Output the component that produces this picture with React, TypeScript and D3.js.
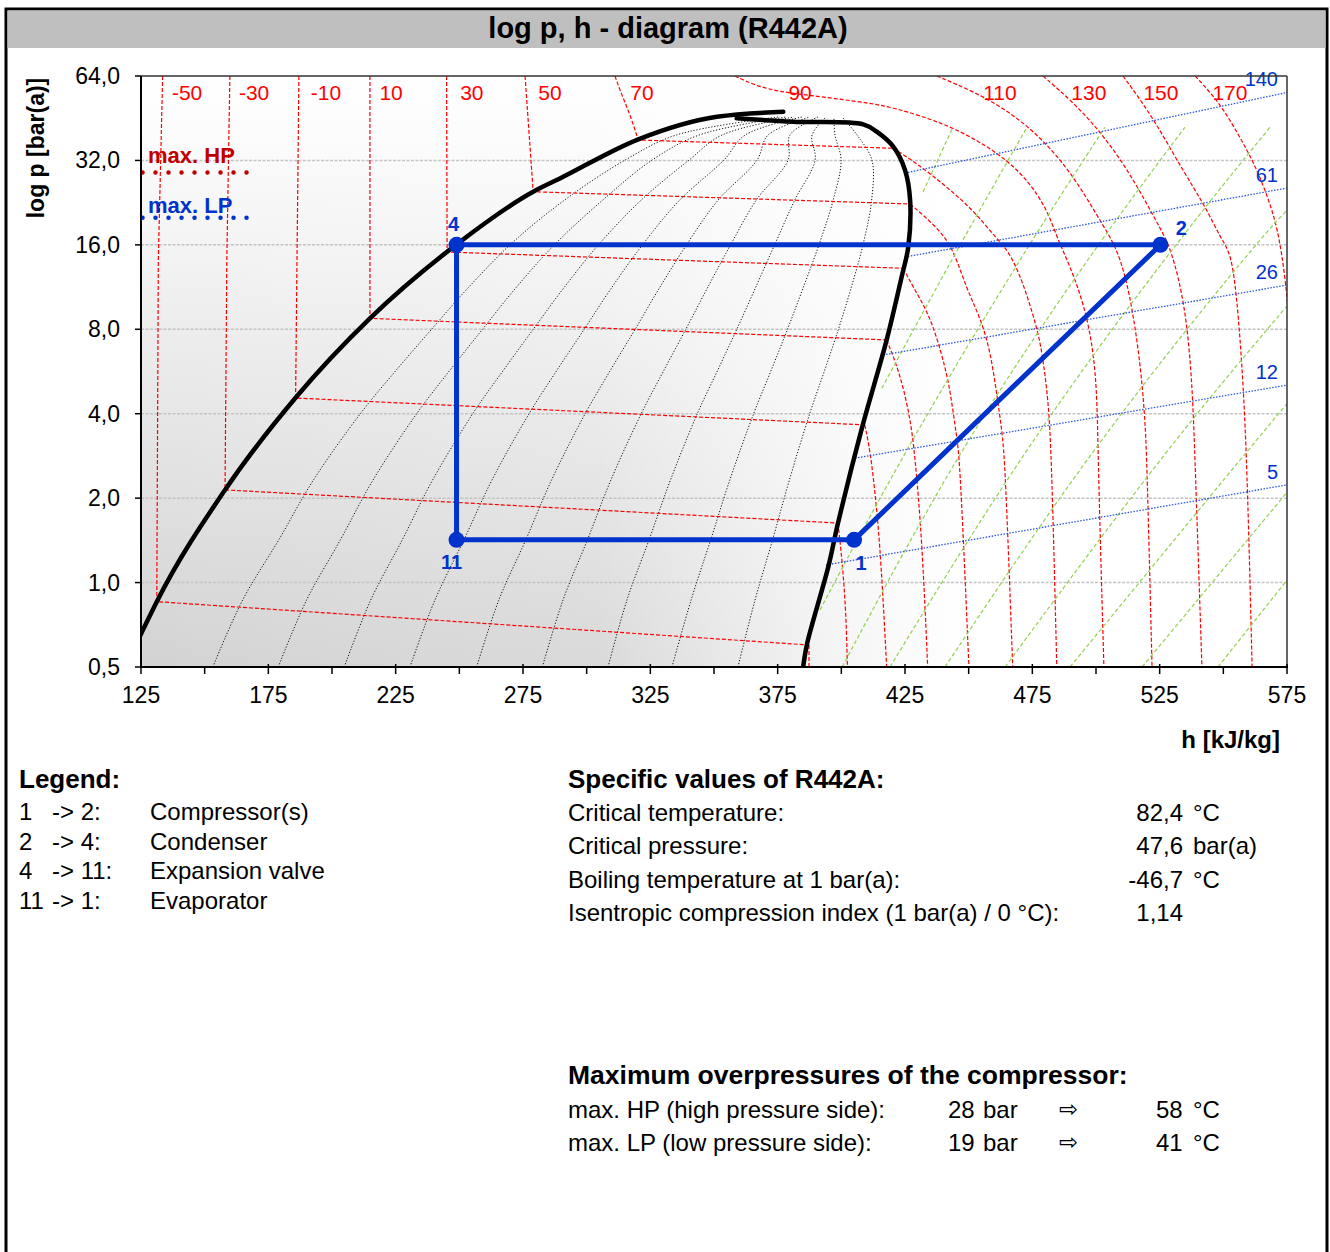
import * as d3 from "d3";

// axes
const hTicks = [125, 175, 225, 275, 325, 375, 425, 475, 525, 575];
const hMinor = [150, 200, 250, 300, 350, 400, 450, 500, 550];
const pTicks = [0.5, 1, 2, 4, 8, 16, 32, 64];
const pGrid = [1, 2, 4, 8, 16, 32];

// saturation lines [h kJ/kg, p bar(a)]
const satLiquid = [
  [118.7, 0.5], [125.0, 0.656], [131.2, 0.855], [158.0, 2.14], [185.7, 4.56],
  [214.9, 8.75], [248.7, 16.0], [279.0, 24.75], [289.5, 27.6],
  [320.3, 38.06], [351.1, 45.82], [377.2, 47.7],
];
const satVapor = [
  [358.9, 45.22], [381.1, 43.98], [408.6, 43.05], [413.9, 40.51], [420.4, 35.82],
  [425.0, 29.58], [427.0, 23.12], [426.3, 15.77], [423.7, 12.32], [417.8, 7.33],
  [408.1, 3.56], [398.7, 1.63], [394.9, 1.14], [386.6, 0.608], [385.0, 0.5],
];

// refrigeration cycle
const cycleIds = ["1", "2", "4", "11"];
const cycleH = [405.0, 525.3, 248.9, 248.9];
const cycleP = [1.42, 16, 16, 1.42];

// isotherms: "dome" = liquid + two-phase part (straight), "gas" = superheated part
const isoTemps = [-50, -30, -10, 10, 30, 50, 70, 90, 110, 130, 150, 170];
const isoLabelH = [143.1, 169.4, 197.6, 223.2, 254.9, 285.6, 321.7, 383.8, 462.3, 497.2, 525.5, 552.6];
const tm50dome = [[133.5, 64], [131.8, 14.1], [131.2, 0.855], [387.3, 0.599]];
const tm50gas = [[387.3, 0.599], [387.3, 0.5]];
const tm30dome = [[159.9, 64], [158.7, 14.1], [158.0, 2.14], [398.7, 1.63]];
const tm30gas = [[398.7, 1.63], [400.3, 1.2], [401.8, 0.799], [402.4, 0.5]];
const tm10dome = [[187.0, 64], [185.7, 4.55], [409.2, 3.65]];
const tm10gas = [[409.2, 3.65], [411.3, 2.97], [413.6, 1.97], [415.6, 1.2], [417.8, 0.5]];
const t10dome = [[214.9, 64], [214.9, 8.75], [417.8, 7.33]];
const t10gas = [[417.8, 7.33], [423.0, 5.59], [427.0, 3.89], [428.9, 2.85], [431.7, 1.42], [433.9, 0.5]];
const t30dome = [[245.0, 64], [245.2, 15.09], [424.3, 13.2]];
const t30gas = [[424.3, 13.2], [428.2, 11.32], [433.5, 9.37], [437.5, 7.51], [440.7, 5.87], [442.7, 4.86], [445.3, 3.3], [446.6, 2.73], [450.1, 0.5]];
const t50dome = [[275.8, 64], [279.0, 24.75], [427.0, 22.38]];
const t50gas = [[427.0, 22.38], [437.5, 18.53], [443.9, 15.59], [449.3, 11.05], [454.5, 8.85], [458.4, 6.75], [461.0, 4.74], [463.0, 3.5], [464.3, 2.73], [467.3, 0.5]];
const t70dome = [[311.1, 64], [313.1, 57.06], [317.0, 46.47], [320.3, 37.84], [420.4, 35.36]];
const t70gas = [[420.4, 35.36], [429.6, 31.26], [441.4, 25.79], [452.5, 20.96], [460.3, 17.07], [465.6, 15.34], [471.5, 11.7], [476.7, 8.15], [478.7, 6.75], [481.3, 4.48], [482.6, 2.73], [484.6, 0.5]];
const t90gas = [[358.2, 64], [366.6, 58.96], [375.9, 56.26], [386.4, 54.76], [407.3, 51.83], [420.3, 49.62], [439.9, 43.51], [453.3, 37.84], [465.1, 32.11], [474.1, 26.58], [480.8, 21.31], [484.7, 17.07], [486.6, 15.59], [492.5, 11.7], [497.6, 8.15], [500.4, 5.15], [500.8, 2.73], [503.1, 0.5]];
const t110gas = [[437.5, 64], [452.5, 56.1], [466.2, 47.63], [478.0, 38.79], [487.8, 30.82], [495.7, 24.1], [502.7, 18.8], [508.6, 15.34], [513.3, 10.78], [517.3, 6.22], [519.2, 3.89], [520.0, 2.73], [522.0, 0.5]];
const t130gas = [[479.2, 64], [491.8, 50.86], [502.4, 39.76], [511.4, 30.57], [519.2, 23.12], [525.1, 18.38], [529.4, 15.59], [534.9, 9.93], [537.7, 5.41], [538.9, 2.73], [541.6, 0.5]];
const t150gas = [[510.6, 64], [521.2, 47.23], [530.2, 34.02], [538.1, 25.73], [543.6, 21.31], [548.7, 17.07], [552.2, 15.34], [554.6, 12.29], [557.3, 6.22], [559.3, 2.73], [561.3, 0.5]];
const t170gas = [[538.9, 64], [548.7, 51.27], [556.5, 38.79], [562.4, 30.82], [567.5, 23.7], [571.5, 18.08], [574.3, 12.29], [576.2, 7.96]];

// isentropes (green)
const isentropes = [
  [[432.1, 24.7], [443.8, 42]],
  [[415.9, 4.93], [445.3, 15.34], [472.9, 42]],
  [[391.6, 0.799], [425.0, 2.97], [472.1, 15.34], [503.5, 42]],
  [[400.3, 0.5], [445.8, 2.97], [498.8, 15.34], [534.9, 42]],
  [[419.1, 0.5], [471.3, 2.97], [529.1, 15.34], [568.3, 42]],
  [[440.7, 0.5], [497.6, 2.97], [560.5, 15.34], [575, 21.3]],
  [[464.3, 0.5], [527.1, 2.97], [575, 9.68]],
  [[489.8, 0.5], [559.7, 2.97], [575, 4.34]],
  [[518.1, 0.5], [575, 2.1]],
  [[547.9, 0.5], [575, 1.02]],
];

// isochores (blue) with their labels
const isochoreLabels = ["140", "61", "26", "12", "5"];
const isochores = [
  [[425.0, 28.86], [575, 55.9]],
  [[425.0, 14.48], [575, 25.5]],
  [[416.4, 6.48], [575, 11.5]],
  [[405.4, 2.78], [575, 5.06]],
  [[394.0, 1.155], [575, 2.23]],
];

// vapour quality lines x = 0.1 ... 0.9: h at these pressures
const qualityP = [0.5, 0.866, 1.42, 2.32, 4.03, 5.73, 8.02, 11.05, 16, 23.1, 32.1, 39.4, 45.7];
const q01 = [153.2, 164.9, 179.1, 192.7, 211.4, 225.3, 239.2, 252.7, 269.9, 291.3, 315.1, 335.1, 375.1];
const q02 = [178.9, 190.0, 203.3, 216.1, 233.5, 246.4, 259.2, 271.5, 287.3, 306.3, 325.7, 344.1, 378.3];
const q03 = [204.8, 215.2, 227.6, 239.5, 255.5, 267.4, 279.1, 290.4, 304.6, 321.4, 340.2, 353.1, 381.4];
const q04 = [230.6, 240.4, 251.8, 262.8, 277.6, 288.4, 299.1, 309.2, 321.9, 336.5, 353.9, 362.2, 384.6];
const q05 = [256.8, 265.5, 276.1, 286.2, 299.6, 309.4, 319.1, 328.1, 339.2, 351.6, 366.9, 371.2, 387.7];
const q06 = [282.6, 290.7, 300.3, 309.5, 321.6, 330.4, 339.0, 347.0, 356.5, 366.6, 379.1, 379.8, 390.8];
const q07 = [308.4, 315.8, 324.5, 332.9, 343.6, 351.5, 359.0, 365.9, 373.8, 381.7, 389.7, 388.5, 394.0];
const q08 = [333.5, 341.0, 348.7, 356.2, 365.7, 372.5, 378.9, 384.7, 391.2, 396.8, 399.9, 397.5, 397.1];
const q09 = [359.4, 366.1, 373.0, 379.6, 387.7, 393.5, 398.9, 403.6, 408.5, 411.9, 412.0, 406.2, 400.3];

// max. overpressure markers (absolute bar)
const maxHP = 29;
const maxLP = 20;
const markerH = [125.6, 168];

// texts
const legendRows = [
  ["1", "-> 2:", "Compressor(s)"],
  ["2", "-> 4:", "Condenser"],
  ["4", "-> 11:", "Expansion valve"],
  ["11", "-> 1:", "Evaporator"],
];
const specRows = [
  ["Critical temperature:", "82,4", "°C"],
  ["Critical pressure:", "47,6", "bar(a)"],
  ["Boiling temperature at 1 bar(a):", "-46,7", "°C"],
  ["Isentropic compression index (1 bar(a) / 0 °C):", "1,14", ""],
];
const overRows = [
  ["max. HP (high pressure side):", "28", "bar", "58", "°C"],
  ["max. LP (low pressure side):", "19", "bar", "41", "°C"],
];

const FONT = "'Liberation Sans', Arial, Helvetica, sans-serif";
const RED = "#ff0000";
const BLUE = "#0033cc";
const GREEN = "#92d050";

export default function App() {
  const plot = { left: 141, right: 1287, top: 76, bottom: 667 };
  const x = d3.scaleLinear().domain([125, 575]).range([plot.left, plot.right]);
  const y = d3.scaleLog().base(2).domain([0.5, 64]).range([plot.bottom, plot.top]);

  const lin = d3.line<number[]>().x((d) => x(d[0])).y((d) => y(d[1]));
  const smooth = d3
    .line<number[]>()
    .x((d) => x(d[0]))
    .y((d) => y(d[1]))
    .curve(d3.curveCatmullRom.alpha(0.5));
  const soft = d3
    .line<number[]>()
    .x((d) => x(d[0]))
    .y((d) => y(d[1]))
    .curve(d3.curveBasis);
  const liquidLine = d3
    .line<number[]>()
    .x((d) => x(d[0]))
    .y((d) => y(d[1]))
    .curve(d3.curveMonotoneX);

  const isotherms = [
    { dome: tm50dome, gas: tm50gas },
    { dome: tm30dome, gas: tm30gas },
    { dome: tm10dome, gas: tm10gas },
    { dome: t10dome, gas: t10gas },
    { dome: t30dome, gas: t30gas },
    { dome: t50dome, gas: t50gas },
    { dome: t70dome, gas: t70gas },
    { dome: null, gas: t90gas },
    { dome: null, gas: t110gas },
    { dome: null, gas: t130gas },
    { dome: null, gas: t150gas },
    { dome: null, gas: t170gas },
  ];
  const qualityLines = [q01, q02, q03, q04, q05, q06, q07, q08, q09].map((hs) =>
    hs.map((h, i) => [h, qualityP[i]])
  );
  const cycle = cycleH.map((h, i) => [h, cycleP[i]]);
  const labelOffsets: Record<string, [number, number]> = {
    "1": [7, 30],
    "2": [21, -10],
    "4": [-3, -14],
    "11": [-5, 29],
  };

  return (
    <svg
      width={1330}
      height={1252}
      style={{ position: "absolute", left: 0, top: 0, fontFamily: FONT }}
    >
      <defs>
        <linearGradient id="bgV" x1="0" y1="0" x2="0" y2="1">
          <stop offset="0" stopColor="#ffffff" />
          <stop offset="0.12" stopColor="#fbfbfb" />
          <stop offset="1" stopColor="#d3d3d3" />
        </linearGradient>
        <linearGradient id="bgH" x1="0" y1="0" x2="1" y2="0">
          <stop offset="0" stopColor="#ffffff" stopOpacity="0" />
          <stop offset="0.4" stopColor="#ffffff" stopOpacity="0.15" />
          <stop offset="0.62" stopColor="#ffffff" stopOpacity="0.8" />
          <stop offset="0.72" stopColor="#ffffff" stopOpacity="1" />
          <stop offset="1" stopColor="#ffffff" stopOpacity="1" />
        </linearGradient>
        <clipPath id="plotClip">
          <rect x={plot.left} y={plot.top} width={plot.right - plot.left} height={plot.bottom - plot.top} />
        </clipPath>
      </defs>

      {/* frame and title */}
      <rect x={6} y={9} width={1321} height={1300} fill="none" stroke="#000" strokeWidth={3} />
      <rect x={7.5} y={10.5} width={1318} height={37.5} fill="#bfbfbf" />
      <text x={668} y={38} textAnchor="middle" fontSize={29} fontWeight="bold">
        log p, h - diagram (R442A)
      </text>

      {/* plot background */}
      <rect x={plot.left} y={plot.top} width={plot.right - plot.left} height={plot.bottom - plot.top} fill="url(#bgV)" />
      <rect x={plot.left} y={plot.top} width={plot.right - plot.left} height={plot.bottom - plot.top} fill="url(#bgH)" />

      {/* grid */}
      {pGrid.map((p) => (
        <line key={p} x1={plot.left} x2={plot.right} y1={y(p)} y2={y(p)} stroke="#c4c4c4" strokeWidth={1.5} strokeDasharray="3 1.5" />
      ))}

      <g clipPath="url(#plotClip)" fill="none">
        {qualityLines.map((d, i) => (
          <path key={"q" + i} d={smooth(d) || ""} stroke="#111" strokeWidth={1} strokeDasharray="1.2 1.8" />
        ))}
        {isotherms.map((t, i) => (
          <g key={"t" + i} stroke={RED} strokeWidth={1.2} strokeDasharray="4 2">
            {t.dome && <path d={lin(t.dome) || ""} />}
            <path d={soft(t.gas) || ""} />
          </g>
        ))}
        {isentropes.map((d, i) => (
          <path key={"s" + i} d={soft(d) || ""} stroke={GREEN} strokeWidth={1.2} strokeDasharray="4 2.5" />
        ))}
        {isochores.map((d, i) => (
          <path key={"v" + i} d={lin(d) || ""} stroke="#2a55dd" strokeWidth={1.3} strokeDasharray="1.5 1.5" />
        ))}
        <path d={liquidLine(satLiquid) || ""} stroke="#000" strokeWidth={4.5} strokeLinecap="round" />
        <path d={smooth(satVapor) || ""} stroke="#000" strokeWidth={4.5} strokeLinecap="round" />

        {/* max HP / LP markers */}
        <line x1={x(markerH[0])} x2={x(markerH[1])} y1={y(maxHP)} y2={y(maxHP)} stroke="#c00000" strokeWidth={4.5} strokeLinecap="round" strokeDasharray="0 13" />
        <line x1={x(markerH[0])} x2={x(markerH[1]) + 2} y1={y(maxLP)} y2={y(maxLP)} stroke={BLUE} strokeWidth={4.5} strokeLinecap="round" strokeDasharray="0 13" />
      </g>

      {/* isotherm labels */}
      {isoTemps.map((t, i) => (
        <text key={"tl" + t} x={x(isoLabelH[i])} y={plot.top + 24} textAnchor="middle" fontSize={21} fill={RED}>
          {t}
        </text>
      ))}
      {/* isochore labels */}
      {isochores.map((d, i) => (
        <text key={"vl" + i} x={plot.right - 9} y={y(d[d.length - 1][1]) - 6} textAnchor="end" fontSize={20} fill={BLUE}>
          {isochoreLabels[i]}
        </text>
      ))}

      <text x={148} y={y(maxHP) - 9} fontSize={22} fontWeight="bold" fill="#c00000">max. HP</text>
      <text x={148} y={y(maxLP) - 5} fontSize={22} fontWeight="bold" fill={BLUE}>max. LP</text>

      {/* cycle */}
      <path d={lin([...cycle, cycle[0]]) || ""} fill="none" stroke={BLUE} strokeWidth={5} strokeLinejoin="round" />
      {cycle.map((d, i) => (
        <g key={"c" + i}>
          <circle cx={x(d[0])} cy={y(d[1])} r={8} fill={BLUE} />
          <text
            x={x(d[0]) + labelOffsets[cycleIds[i]][0]}
            y={y(d[1]) + labelOffsets[cycleIds[i]][1]}
            textAnchor="middle"
            fontSize={20}
            fontWeight="bold"
            fill={BLUE}
          >
            {cycleIds[i]}
          </text>
        </g>
      ))}

      {/* axes */}
      <line x1={plot.left} x2={plot.right} y1={plot.top} y2={plot.top} stroke="#333" strokeWidth={1.5} />
      <line x1={plot.right} x2={plot.right} y1={plot.top} y2={plot.bottom} stroke="#333" strokeWidth={1.5} />
      <line x1={plot.left} x2={plot.left} y1={plot.top} y2={plot.bottom + 1} stroke="#000" strokeWidth={2} />
      <line x1={plot.left - 1} x2={plot.right + 1} y1={plot.bottom} y2={plot.bottom} stroke="#000" strokeWidth={2} />
      {pTicks.map((p) => (
        <g key={"yt" + p}>
          <line x1={plot.left - 6} x2={plot.left} y1={y(p)} y2={y(p)} stroke="#000" strokeWidth={1.5} />
          <text x={120} y={y(p) + 8} textAnchor="end" fontSize={23}>
            {p.toFixed(1).replace(".", ",")}
          </text>
        </g>
      ))}
      {hTicks.map((h) => (
        <g key={"xt" + h}>
          <line x1={x(h)} x2={x(h)} y1={plot.bottom - 3} y2={plot.bottom + 7} stroke="#000" strokeWidth={1.5} />
          <text x={x(h)} y={plot.bottom + 36} textAnchor="middle" fontSize={23}>
            {h}
          </text>
        </g>
      ))}
      {hMinor.map((h) => (
        <line key={"xm" + h} x1={x(h)} x2={x(h)} y1={plot.bottom} y2={plot.bottom + 7} stroke="#000" strokeWidth={1.5} />
      ))}
      <text transform="translate(44,148) rotate(-90)" textAnchor="middle" fontSize={23} fontWeight="bold">
        log p [bar(a)]
      </text>
      <text x={1280} y={748} textAnchor="end" fontSize={24} fontWeight="bold">
        h [kJ/kg]
      </text>

      {/* legend */}
      <text x={19} y={788} fontSize={26} fontWeight="bold">Legend:</text>
      {legendRows.map((r, i) => (
        <g key={"lg" + i} fontSize={24}>
          <text x={19} y={820 + i * 29.5}>{r[0]}</text>
          <text x={52} y={820 + i * 29.5}>{r[1]}</text>
          <text x={150} y={820 + i * 29.5}>{r[2]}</text>
        </g>
      ))}

      {/* specific values */}
      <text x={568} y={788} fontSize={26} fontWeight="bold">Specific values of R442A:</text>
      {specRows.map((r, i) => (
        <g key={"sp" + i} fontSize={24}>
          <text x={568} y={821 + i * 33.3}>{r[0]}</text>
          <text x={1183} y={821 + i * 33.3} textAnchor="end">{r[1]}</text>
          <text x={1193} y={821 + i * 33.3}>{r[2]}</text>
        </g>
      ))}

      {/* overpressures */}
      <text x={568} y={1084} fontSize={26.5} fontWeight="bold">Maximum overpressures of the compressor:</text>
      {overRows.map((r, i) => (
        <g key={"op" + i} fontSize={24}>
          <text x={568} y={1118 + i * 33}>{r[0]}</text>
          <text x={948} y={1118 + i * 33}>{r[1]}</text>
          <text x={983} y={1118 + i * 33}>{r[2]}</text>
          <text x={1059} y={1117 + i * 33} fontSize={23} fontFamily="'DejaVu Sans', sans-serif">⇨</text>
          <text x={1156} y={1118 + i * 33}>{r[3]}</text>
          <text x={1193} y={1118 + i * 33}>{r[4]}</text>
        </g>
      ))}
    </svg>
  );
}
